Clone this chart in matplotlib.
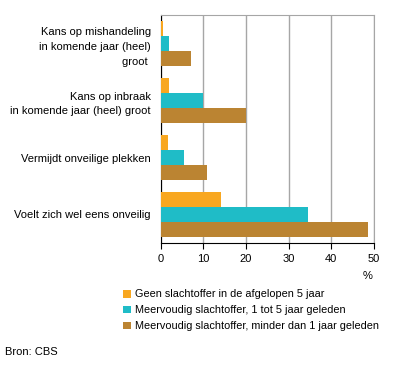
import matplotlib
matplotlib.use("Agg")
import matplotlib.pyplot as plt
from matplotlib.patches import Patch
import numpy as np

plt.rcParams['font.family'] = ['Liberation Sans', 'DejaVu Sans']

categories = [
    "Kans op mishandeling\nin komende jaar (heel)\ngroot ",
    "Kans op inbraak\nin komende jaar (heel) groot",
    "Vermijdt onveilige plekken",
    "Voelt zich wel eens onveilig",
]
series_names = [
    "Geen slachtoffer in de afgelopen 5 jaar",
    "Meervoudig slachtoffer, 1 tot 5 jaar geleden",
    "Meervoudig slachtoffer, minder dan 1 jaar geleden",
]
geen = [0.5, 1.9, 1.7, 14.2]
een_tot_vijf = [1.9, 9.9, 5.5, 34.6]
minder_dan_een = [7.1, 20.0, 10.9, 48.7]
colors = ["#F8A720", "#1FBCC7", "#BB8432"]
xticks = [0, 10, 20, 30, 40, 50]

fig = plt.figure(figsize=(3.96, 3.66), dpi=100)
ax = fig.add_axes([160.7 / 396, 1 - 243 / 366, 213 / 396, 228 / 366])

y = np.arange(len(categories))
h = 15 / 57
for i, vals in enumerate([geen, een_tot_vijf, minder_dan_een]):
    ax.barh(y + (i - 1) * h, vals, height=h, color=colors[i], zorder=3)

ax.set_ylim(len(categories) - 0.5, -0.5)
ax.set_xlim(0, 50)
ax.set_xticks(xticks)
ax.set_xticklabels([str(t) for t in xticks], fontsize=8)
ax.set_yticks(y)
ax.set_yticklabels(categories, fontsize=8, linespacing=1.6, ha="right",
                   multialignment="right")
ax.tick_params(axis="y", length=0, pad=7)
ax.tick_params(axis="x", direction="out", length=4, color="black", pad=4)
ax.grid(axis="x", color="#A6A6A6", linewidth=1, zorder=0)
ax.spines["left"].set_color("black")
ax.spines["bottom"].set_color("black")
ax.spines["top"].set_color("#A6A6A6")
ax.spines["right"].set_color("#A6A6A6")

fig.text(368 / 396, 1 - 276 / 366, "%", fontsize=8, ha="center", va="center")

handles = [Patch(facecolor=c, edgecolor="none") for c in colors]
fig.legend(handles, series_names, loc="upper left",
           bbox_to_anchor=(119 / 396, 1 - 285 / 366), frameon=False,
           fontsize=7.8, handlelength=0.75, handleheight=0.75,
           handletextpad=0.3, labelspacing=0.55, borderaxespad=0)

fig.text(5 / 396, 1 - 352 / 366, "Bron: CBS", fontsize=8, ha="left", va="center")

fig.savefig("out.png", dpi=100)
